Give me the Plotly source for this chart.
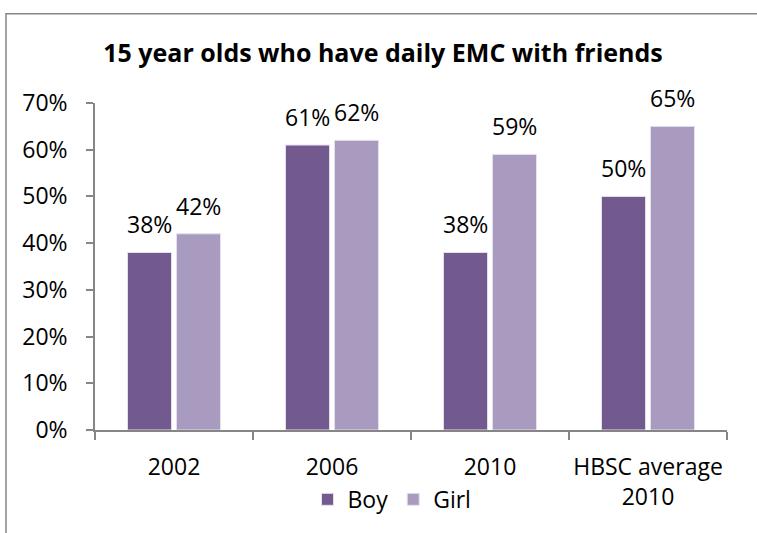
import plotly.graph_objects as go

# Share of 15 year olds with daily electronic media contact (EMC) with friends
categories = ["2002", "2006", "2010", "HBSC average<br>2010"]
boy = [38, 61, 38, 50]
girl = [42, 62, 59, 65]
y_ticks = [0, 10, 20, 30, 40, 50, 60, 70]
y_tick_labels = [f"{v}%" for v in y_ticks]

BOY_COLOR = "#725A8F"
GIRL_COLOR = "#A99AC0"
AXIS_COLOR = "#868686"
FONT = "Open Sans, Noto Sans, sans-serif"
FS = 23

W, H = 757, 533
L, R, T, B = 95, 30, 103, 100
pw, ph = W - L - R, H - T - B
BARGAP = 0.38
slot_px = pw / len(categories) * (1 - BARGAP) / 2

fig = go.Figure()
for name, vals, color in [("Boy", boy, BOY_COLOR), ("Girl", girl, GIRL_COLOR)]:
    fig.add_trace(go.Bar(
        name=name, x=categories, y=vals,
        marker=dict(color=color, line=dict(color="#E6E0EE", width=1)),
    ))

# value labels above each bar
annotations = []
for vals, side in [(boy, -1), (girl, 1)]:
    for i, v in enumerate(vals):
        annotations.append(dict(
            x=i, y=v, xref="x", yref="y", text=f"{v}%", showarrow=False,
            xanchor="center", yanchor="bottom", xshift=side * slot_px / 2,
            yshift=10, font=dict(size=FS, color="#000000", family=FONT),
        ))

fig.update_layout(
    width=W, height=H,
    margin=dict(l=L, r=R, t=T, b=B),
    paper_bgcolor="white", plot_bgcolor="white",
    font=dict(family=FONT, size=FS, color="#000000"),
    barmode="group", bargap=BARGAP, bargroupgap=0.1,
    title=dict(text="<b>15 year olds who have daily EMC with friends</b>",
               x=383 / W, xanchor="center", y=1 - 53 / H, yanchor="middle",
               font=dict(size=25, family=FONT)),
    legend=dict(orientation="h", x=(392 - L) / pw, xanchor="center",
                y=(T + ph - 503) / ph, yanchor="middle",
                font=dict(size=FS), traceorder="normal"),
    xaxis=dict(type="category", categoryorder="array", categoryarray=categories,
               range=[-0.5, len(categories) - 0.5],
               showline=True, linecolor=AXIS_COLOR, linewidth=1.5,
               ticks="outside", ticklen=8, tickcolor=AXIS_COLOR, tickwidth=1.5,
               tickson="boundaries", ticklabelstandoff=16, tickangle=0,
               tickfont=dict(size=FS)),
    yaxis=dict(range=[0, 70], tickvals=y_ticks, ticktext=y_tick_labels,
               showline=True, linecolor=AXIS_COLOR, linewidth=1.5,
               ticks="outside", ticklen=7, tickcolor=AXIS_COLOR, tickwidth=1.5,
               ticklabelstandoff=14,
               showgrid=False, zeroline=False, tickfont=dict(size=FS)),
    annotations=annotations,
    shapes=[dict(type="rect", xref="paper", yref="paper",
                 x0=(6 - L) / pw, x1=(W + 20 - L) / pw,
                 y0=(T + ph - (H + 20)) / ph, y1=(T + ph - 13) / ph,
                 line=dict(color="#868686", width=1.5), fillcolor="rgba(0,0,0,0)",
                 layer="below")],
)

fig.write_html("out.html")
